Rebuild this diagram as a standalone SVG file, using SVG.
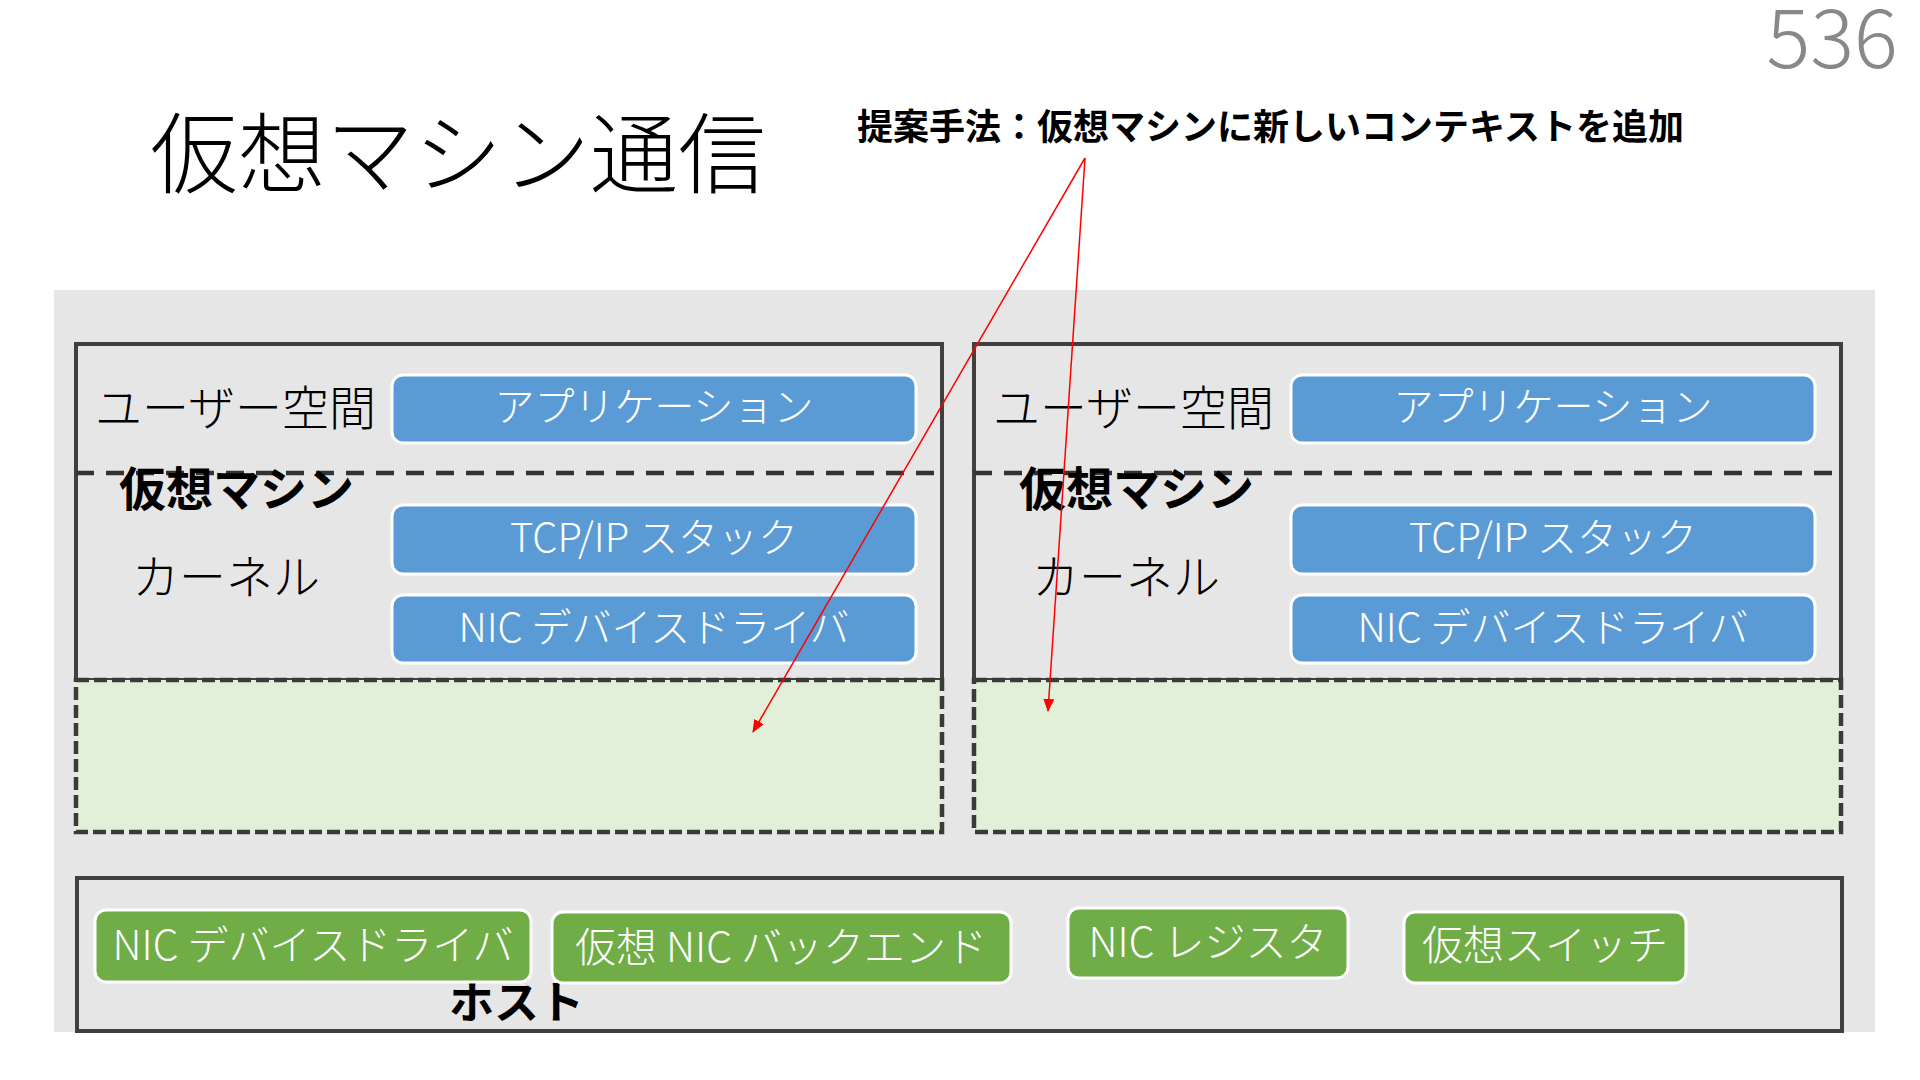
<svg xmlns="http://www.w3.org/2000/svg" width="1920" height="1080" viewBox="0 0 1920 1080">
<defs>
<style>
.jp{font-family:"Noto Sans CJK JP","Noto Sans",sans-serif;}
.thin{font-weight:200;}
.bold{font-weight:700;}
.lbl{font-size:47px;fill:#000;font-weight:300;}
.vm{fill:none;stroke:#404040;stroke-width:4;}
.div{stroke:#333;stroke-width:4.5;stroke-dasharray:18 12;fill:none;}
.ctx{fill:#E2F0D9;stroke:#3a3a3a;stroke-width:4.5;stroke-dasharray:13 5;}
.blue{fill:#5B9BD5;stroke:#fff;stroke-width:3;}
.green{fill:#70AD47;stroke:#fff;stroke-width:3;}
.bt{fill:#fff;font-size:40px;font-weight:300;text-anchor:middle;}
.gt{fill:#fff;font-size:41px;font-weight:300;text-anchor:middle;}
.red{stroke:#FF0000;stroke-width:1.5;fill:none;}
</style>
<marker id="ah" viewBox="0 0 13 11" refX="12" refY="5.5" markerWidth="13" markerHeight="11" markerUnits="userSpaceOnUse" orient="auto">
<path d="M0,0 L13,5.5 L0,11 Z" fill="#FF0000"/>
</marker>
</defs>
<rect width="1920" height="1080" fill="#fff"/>
<text class="jp thin" x="150" y="186" font-size="88" fill="#000">仮想マシン通信</text>
<text class="jp thin" x="1898" y="68" font-size="82" fill="#888" text-anchor="end">536</text>
<text class="jp bold" x="857" y="140" font-size="36" fill="#000">提案手法：仮想マシンに新しいコンテキストを追加</text>
<rect x="54" y="290" width="1821" height="742" fill="#E7E6E6"/>
<g id="vm1">
<rect class="vm" x="76" y="344" width="866" height="336"/>
<line class="div" x1="76" y1="473" x2="942" y2="473"/>
<rect class="ctx" x="76" y="680" width="866" height="152"/>
<text class="jp lbl" x="95" y="425">ユーザー空間</text>
<text class="jp bold" x="119" y="506" font-size="47">仮想マシン</text>
<text class="jp lbl" x="132" y="594">カーネル</text>
<g id="vm1-app"><rect class="blue" x="392" y="375" width="524" height="68" rx="11"/><text class="jp bt" x="654" y="421">アプリケーション</text></g>
<g id="vm1-tcp"><rect class="blue" x="392" y="505" width="524" height="69" rx="11"/><text class="jp bt" x="654" y="552">TCP/IP スタック</text></g>
<g id="vm1-nic"><rect class="blue" x="392" y="595" width="524" height="68" rx="11"/><text class="jp bt" x="654" y="642">NIC デバイスドライバ</text></g>
</g>
<g id="vm2">
<rect class="vm" x="974" y="344" width="867" height="336"/>
<line class="div" x1="974" y1="473" x2="1841" y2="473"/>
<rect class="ctx" x="974" y="680" width="867" height="152"/>
<text class="jp lbl" x="993" y="425">ユーザー空間</text>
<text class="jp bold" x="1019" y="506" font-size="47">仮想マシン</text>
<text class="jp lbl" x="1032" y="594">カーネル</text>
<g id="vm2-app"><rect class="blue" x="1291" y="375" width="524" height="68" rx="11"/><text class="jp bt" x="1553" y="421">アプリケーション</text></g>
<g id="vm2-tcp"><rect class="blue" x="1291" y="505" width="524" height="69" rx="11"/><text class="jp bt" x="1553" y="552">TCP/IP スタック</text></g>
<g id="vm2-nic"><rect class="blue" x="1291" y="595" width="524" height="68" rx="11"/><text class="jp bt" x="1553" y="642">NIC デバイスドライバ</text></g>
</g>
<g id="host">
<rect class="vm" x="77" y="878" width="1765" height="153"/>
<text class="jp bold" x="449" y="1019" font-size="45">ホスト</text>
<g id="h-nic"><rect class="green" x="95" y="910" width="436" height="72" rx="11"/><text class="jp gt" x="313" y="960">NIC デバイスドライバ</text></g>
<g id="h-back"><rect class="green" x="552" y="912" width="459" height="71" rx="11"/><text class="jp gt" x="781" y="962">仮想 NIC バックエンド</text></g>
<g id="h-reg"><rect class="green" x="1068" y="908" width="280" height="70" rx="11"/><text class="jp gt" x="1208" y="957">NIC レジスタ</text></g>
<g id="h-sw"><rect class="green" x="1404" y="912" width="282" height="71" rx="11"/><text class="jp gt" x="1545" y="960">仮想スイッチ</text></g>
</g>
<g id="connectors">
<line class="red" x1="1085" y1="158" x2="753" y2="732" marker-end="url(#ah)"/>
<line class="red" x1="1085" y1="158" x2="1048" y2="711" marker-end="url(#ah)"/>
</g>
</svg>
